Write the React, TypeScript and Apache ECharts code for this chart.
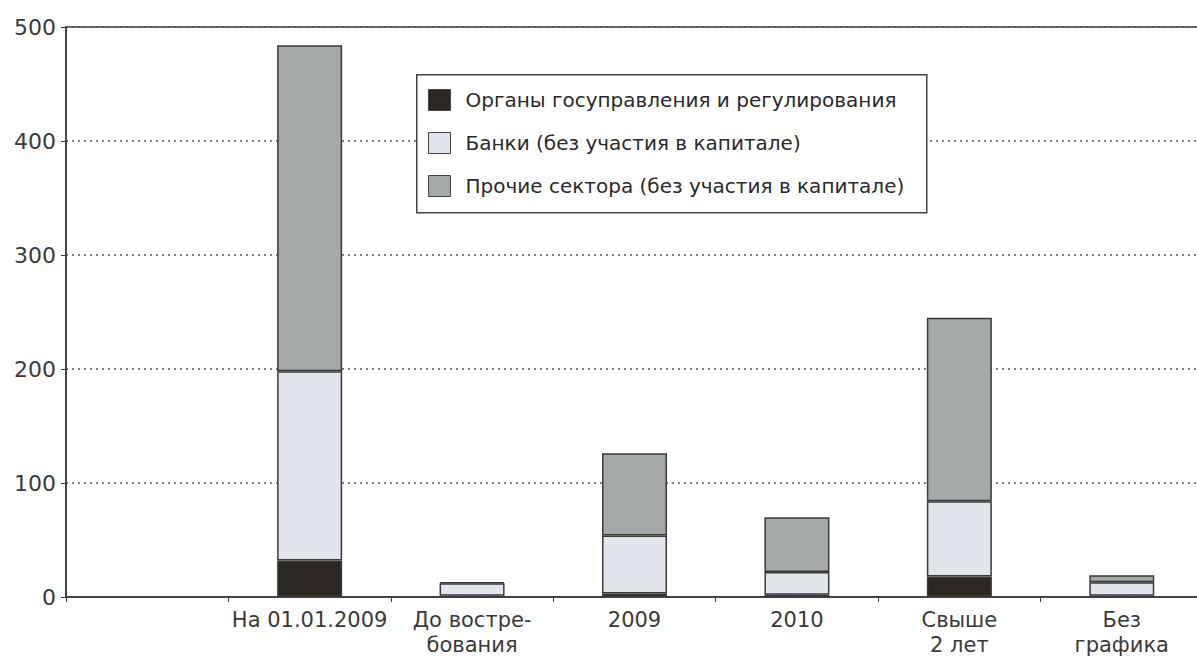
import React, { useEffect, useRef } from "react";
import * as echarts from "echarts";

const categories = ["", "На 01.01.2009", "До востре-\nбования", "2009", "2010", "Свыше\n2 лет", "Без\nграфика"];
const seriesNames = [
  "Органы госуправления и регулирования",
  "Банки (без участия в капитале)",
  "Прочие сектора (без участия в капитале)",
];
const govValues = [null, 32, 1, 3, 2, 18, 1];
const bankValues = [null, 166, 11, 51, 20, 66, 12];
const otherValues = [null, 286, 1, 72, 48, 161, 6];
const yTicks = { min: 0, max: 500, interval: 100 };
const colors = ["#2b2722", "#e3e5ec", "#a5a8a8"];

export default function App() {
  const ref = useRef<HTMLDivElement>(null);
  useEffect(() => {
    if (!ref.current) return;
    const chart = echarts.init(ref.current, null, { renderer: "svg" });
    const font = "DejaVu Sans";
    const dataSets = [govValues, bankValues, otherValues];
    chart.setOption({
      animation: false,
      backgroundColor: "#ffffff",
      grid: {
        left: 66,
        right: 7,
        top: 27,
        bottom: 64,
        show: true,
        borderColor: "#3a3a3a",
        borderWidth: 1.5,
        backgroundColor: "transparent",
      },
      legend: {
        orient: "vertical",
        left: 428,
        top: 89,
        padding: 0,
        z: 5,
        itemWidth: 22,
        itemHeight: 21,
        itemGap: 21,
        selectedMode: false,
        formatter: "{t|{name}}",
        textStyle: {
          fontFamily: font,
          fontSize: 20,
          lineHeight: 21,
          color: "#2a2a2a",
          rich: { t: { fontFamily: font, fontSize: 20, lineHeight: 21, color: "#2a2a2a", padding: [0, 0, 0, 10] } },
        },
        data: seriesNames.map((n) => ({ name: n, icon: "rect", itemStyle: { borderColor: "#444", borderWidth: 1 } })),
      },
      graphic: [
        {
          type: "rect",
          left: 416,
          top: 74,
          z: 3,
          shape: { width: 510, height: 138 },
          style: { fill: "#ffffff", stroke: "#444", lineWidth: 1.5 },
        },
      ],
      xAxis: {
        type: "category",
        data: categories,
        axisLine: { lineStyle: { color: "#3a3a3a", width: 1.5 } },
        axisTick: { show: true, length: 5, lineStyle: { color: "#3a3a3a" } },
        axisLabel: {
          interval: 0,
          fontFamily: font,
          fontSize: 21,
          color: "#3a3a3a",
          lineHeight: 25,
          margin: 10,
        },
      },
      yAxis: {
        type: "value",
        min: yTicks.min,
        max: yTicks.max,
        interval: yTicks.interval,
        axisLine: { show: true, lineStyle: { color: "#3a3a3a", width: 1.5 } },
        axisTick: { show: true, length: 5, lineStyle: { color: "#3a3a3a" } },
        axisLabel: { fontFamily: font, fontSize: 22, color: "#3a3a3a", margin: 10 },
        splitLine: { show: true, lineStyle: { color: "#555", type: [2, 4], width: 1.5 } },
      },
      series: seriesNames.map((name, i) => ({
        name,
        type: "bar",
        stack: "total",
        barWidth: 65,
        data: dataSets[i],
        itemStyle: { color: colors[i], borderColor: "#3a3a3a", borderWidth: 1.5 },
      })),
    });
    return () => chart.dispose();
  }, []);
  return (
    <div style={{ position: "fixed", left: 0, top: 0, width: 1197, height: 661, overflow: "hidden", background: "#fff" }}>
      <div ref={ref} style={{ width: 1210, height: 661 }} />
    </div>
  );
}
